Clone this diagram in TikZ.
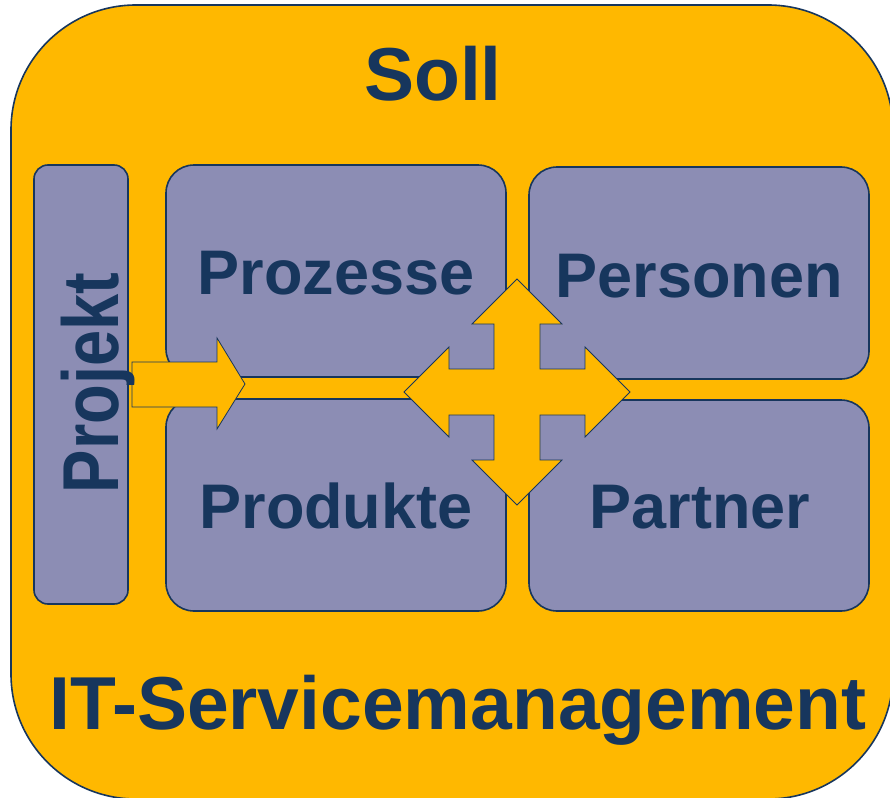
\documentclass[tikz,border=0pt]{standalone}
\usepackage{fontspec}
\setmainfont{Liberation Sans}
\definecolor{sollgelb}{RGB}{255,184,0}
\definecolor{lila}{RGB}{140,141,180}
\definecolor{navy}{RGB}{23,54,93}

\begin{document}
\begin{tikzpicture}[x=1pt,y=-1pt,
    feld/.style={draw=navy, line width=1.6pt, fill=lila, rounded corners=28pt},
    pfeil/.style={draw=navy, line width=0.8pt, fill=sollgelb, line join=miter},
    titel/.style={text=navy, anchor=base, font=\bfseries\fontsize{75}{80}\selectfont},
    schrift/.style={text=navy, anchor=base, font=\bfseries\fontsize{63}{70}\selectfont}]

    \useasboundingbox (0,0) rectangle (890,797);
    \clip (0,0) rectangle (890,797);

    \draw[draw=navy, line width=1.6pt, fill=sollgelb, rounded corners=125pt] (11,5) rectangle (893,799); %Soll

    \draw[feld, rounded corners=14pt] (34,165) rectangle (128,604); %Projekt
    \draw[feld] (166,165) rectangle (506,377);
    \draw[feld] (166,399) rectangle (506,611);
    \draw[feld] (529,167) rectangle (869,379);
    \draw[feld] (529,400) rectangle (869,611);

    \draw[pfeil] (132,362) -- (217,362) -- (217,338) -- (245,384) -- (217,429) -- (217,407) -- (132,407) -- cycle;

    \begin{scope}[shift={(517,392)}]
    \draw[pfeil] (0,-113) -- (45,-68) -- (23,-68) -- (23,-23) -- (68,-23) -- (68,-45) -- (113,0)
        -- (68,45) -- (68,23) -- (23,23) -- (23,68) -- (45,68) -- (0,113)
        -- (-45,68) -- (-23,68) -- (-23,23) -- (-68,23) -- (-68,45) -- (-113,0)
        -- (-68,-45) -- (-68,-23) -- (-23,-23) -- (-23,-68) -- (-45,-68) -- cycle;
    \end{scope}

    \node[titel] (soll) at (433,101) {Soll};
    \node[titel] (itsm) at (458,729) {IT-Servicemanagement};
    \node[schrift, rotate=90, font=\bfseries\fontsize{65}{70}\selectfont] (projekt) at (118,383) {\scalebox{1}[1.22]{Projekt}};
    \node[schrift] (prozesse) at (336,294) {Prozesse};
    \node[schrift] (produkte) at (336,528) {Produkte};
    \node[schrift] (personen) at (699,297) {Personen};
    \node[schrift] (partner) at (700,528) {Partner};

\end{tikzpicture}
\end{document}
